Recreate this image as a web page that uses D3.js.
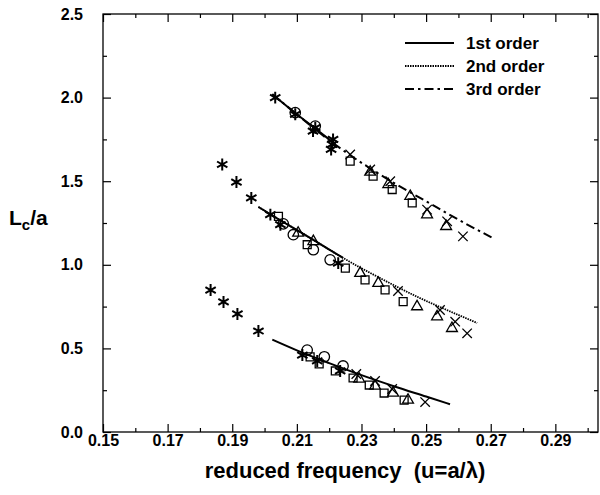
<!DOCTYPE html>
<html>
  <head>
    <meta charset="utf-8">
    <script type="text/javascript" src="https://cdn.jsdelivr.net/npm/d3@7"></script>
    <title>Lc/a vs reduced frequency</title>
    <style>
      body { margin: 0; background: #fff; }
      text { font-family: "Liberation Sans", Arial, sans-serif; fill: #000; }
    </style>
  </head>
  <body>
    <div id="chart"></div>
    <script type="text/javascript">
    // measured points, [u, Lc/a]
    var starPts = [
      [0.2033, 2.00], [0.2095, 1.90], [0.2157, 1.82], [0.2150, 1.80], [0.2209, 1.72], [0.2212, 1.75], [0.2206, 1.69],
      [0.1869, 1.60], [0.1913, 1.495], [0.1959, 1.40], [0.2018, 1.30], [0.2049, 1.24], [0.2228, 1.01],
      [0.1833, 0.849], [0.1873, 0.778], [0.1916, 0.706], [0.1981, 0.604], [0.2117, 0.46], [0.2163, 0.425], [0.2234, 0.365]
    ];
    var circlePts = [
      [0.2095, 1.91], [0.2157, 1.83],
      [0.2058, 1.245], [0.2089, 1.18], [0.2151, 1.09], [0.2203, 1.03],
      [0.2132, 0.49], [0.2185, 0.45], [0.2243, 0.395]
    ];
    var squarePts = [
      [0.2265, 1.62], [0.2336, 1.53], [0.2395, 1.45], [0.2457, 1.37],
      [0.2043, 1.29], [0.2132, 1.12], [0.2250, 0.98], [0.2311, 0.91], [0.2373, 0.85], [0.2429, 0.78],
      [0.2141, 0.449], [0.2169, 0.407], [0.2219, 0.365], [0.2274, 0.323], [0.2324, 0.281], [0.2370, 0.233], [0.2432, 0.191]
    ];
    var trianglePts = [
      [0.2327, 1.555], [0.2383, 1.48], [0.2451, 1.41], [0.2503, 1.30], [0.2562, 1.23],
      [0.2104, 1.19], [0.2151, 1.14], [0.2296, 0.95], [0.2352, 0.89], [0.2472, 0.75], [0.2534, 0.69], [0.2580, 0.62],
      [0.2293, 0.317], [0.2342, 0.275], [0.2398, 0.233], [0.2444, 0.191]
    ];
    var crossPts = [
      [0.2265, 1.66], [0.2327, 1.57], [0.2389, 1.50], [0.2503, 1.33], [0.2565, 1.26], [0.2614, 1.17],
      [0.2413, 0.843], [0.2543, 0.73], [0.2590, 0.66], [0.2627, 0.59],
      [0.2284, 0.347], [0.2342, 0.305], [0.2395, 0.257], [0.2497, 0.179]
    ];

    // theory curves
    var lowerFirst = [[0.2024, 0.552], [0.2100, 0.488], [0.2200, 0.412], [0.2300, 0.340], [0.2400, 0.274], [0.2500, 0.212], [0.2574, 0.166]];
    var midFirst = [[0.1981, 1.346], [0.2050, 1.265], [0.2111, 1.196], [0.2180, 1.115], [0.2243, 1.041]];
    var midSecond = [[0.1981, 1.346], [0.2050, 1.265], [0.2111, 1.196], [0.2180, 1.115], [0.2243, 1.041], [0.2360, 0.918], [0.2481, 0.801], [0.2570, 0.725], [0.2658, 0.652]];
    var topFirst = [[0.2024, 2.02], [0.2100, 1.90], [0.2160, 1.81], [0.2220, 1.72]];
    var topThird = [[0.2024, 2.02], [0.2100, 1.90], [0.2200, 1.745], [0.2300, 1.61], [0.2400, 1.49], [0.2500, 1.38], [0.2600, 1.27], [0.2706, 1.16]];

    var xMajor = [0.15, 0.17, 0.19, 0.21, 0.23, 0.25, 0.27, 0.29];
    var xMinor = [0.16, 0.18, 0.20, 0.22, 0.24, 0.26, 0.28, 0.30];
    var yMajor = [0.0, 0.5, 1.0, 1.5, 2.0, 2.5];
    var yMinor = [0.25, 0.75, 1.25, 1.75, 2.25];
    var legendNames = ["1st order", "2nd order", "3rd order"];

    var w = 600, h = 495;
    var plotL = 103, plotR = 598, plotT = 14, plotB = 432;

    var x = d3.scaleLinear().domain([0.15, 0.3032]).range([plotL, plotR]);
    var y = d3.scaleLinear().domain([0, 2.5]).range([plotB, plotT]);

    var svg = d3.select("#chart").append("svg")
        .attr("width", w).attr("height", h);

    // ticks pointing inwards
    function styleAxis(g) {
      g.select(".domain").remove();
      g.selectAll(".tick line").attr("stroke", "#000").attr("stroke-width", 1.2);
      g.selectAll(".tick text")
        .style("font-family", "'Liberation Sans', Arial, sans-serif")
        .style("font-size", "16px").style("font-weight", "bold").attr("fill", "#000");
    }

    svg.append("g").attr("transform", "translate(0," + plotB + ")")
      .call(d3.axisBottom(x).tickValues(xMajor).tickSize(-8).tickPadding(3).tickFormat(d3.format(".2f")))
      .call(styleAxis);
    svg.append("g").attr("transform", "translate(0," + plotB + ")")
      .call(d3.axisBottom(x).tickValues(xMinor).tickSize(-4).tickFormat(""))
      .call(styleAxis);
    svg.append("g").attr("transform", "translate(0," + plotT + ")")
      .call(d3.axisTop(x).tickValues(xMajor).tickSize(-8).tickFormat(""))
      .call(styleAxis);
    svg.append("g").attr("transform", "translate(0," + plotT + ")")
      .call(d3.axisTop(x).tickValues(xMinor).tickSize(-4).tickFormat(""))
      .call(styleAxis);

    svg.append("g").attr("transform", "translate(" + plotL + ",0)")
      .call(d3.axisLeft(y).tickValues(yMajor).tickSize(-8).tickPadding(20).tickFormat(d3.format(".1f")))
      .call(styleAxis);
    svg.append("g").attr("transform", "translate(" + plotL + ",0)")
      .call(d3.axisLeft(y).tickValues(yMinor).tickSize(-4).tickFormat(""))
      .call(styleAxis);
    svg.append("g").attr("transform", "translate(" + plotR + ",0)")
      .call(d3.axisRight(y).tickValues(yMajor).tickSize(-8).tickFormat(""))
      .call(styleAxis);
    svg.append("g").attr("transform", "translate(" + plotR + ",0)")
      .call(d3.axisRight(y).tickValues(yMinor).tickSize(-4).tickFormat(""))
      .call(styleAxis);

    svg.append("rect")
      .attr("x", plotL).attr("y", plotT)
      .attr("width", plotR - plotL).attr("height", plotB - plotT)
      .attr("fill", "none").attr("stroke", "#000").attr("stroke-width", 1.3);

    // curves
    var line = d3.line().x(function(d) { return x(d[0]); }).y(function(d) { return y(d[1]); }).curve(d3.curveMonotoneX);
    var solid = { dash: null, width: 2 };
    var dotted = { dash: "1.5,1", width: 1.8 };
    var dashdot = { dash: "9,4,2.5,4", width: 2 };

    [[lowerFirst, solid], [midSecond, dotted], [midFirst, solid], [topThird, dashdot], [topFirst, solid]].forEach(function(c) {
      svg.append("path").datum(c[0])
        .attr("d", line)
        .attr("fill", "none").attr("stroke", "#000")
        .attr("stroke-width", c[1].width)
        .attr("stroke-dasharray", c[1].dash);
    });

    // markers
    function drawMarks(data, type, size, width) {
      svg.append("g").selectAll("path").data(data).enter().append("path")
        .attr("transform", function(d) { return "translate(" + x(d[0]) + "," + y(d[1]) + ")"; })
        .attr("d", d3.symbol().type(type).size(size))
        .attr("fill", "none").attr("stroke", "#000").attr("stroke-width", width);
    }
    drawMarks(squarePts, d3.symbolSquare2 || d3.symbolSquare, 80, 1.3);
    drawMarks(trianglePts, d3.symbolTriangle2 || d3.symbolTriangle, 85, 1.3);
    drawMarks(circlePts, d3.symbolCircle, 85, 1.3);
    drawMarks(crossPts, d3.symbolTimes || d3.symbolCross, 60, 1.3);
    drawMarks(starPts, d3.symbolAsterisk || d3.symbolStar, 100, 2);

    // legend
    var styles = [solid, dotted, dashdot];
    var leg = svg.append("g");
    legendNames.forEach(function(name, i) {
      var ly = 43 + i * 23;
      leg.append("line").attr("x1", 405).attr("x2", 454).attr("y1", ly).attr("y2", ly)
        .attr("stroke", "#000").attr("stroke-width", styles[i].width)
        .attr("stroke-dasharray", styles[i].dash);
      leg.append("text").attr("x", 466).attr("y", ly + 6)
        .style("font-size", "17px").style("font-weight", "bold").text(name);
    });

    // axis titles
    svg.append("text")
      .attr("x", 345).attr("y", 478).attr("text-anchor", "middle")
      .style("font-size", "22px").style("font-weight", "bold").style("white-space", "pre")
      .text("reduced frequency  (u=a/\u03bb)");

    var yl = svg.append("text").attr("x", 9).attr("y", 225).style("font-size", "21px").style("font-weight", "bold");
    yl.append("tspan").text("L");
    yl.append("tspan").attr("dy", 5).style("font-size", "15px").text("c");
    yl.append("tspan").attr("dy", -5).text("/a");
    </script>
  </body>
</html>
